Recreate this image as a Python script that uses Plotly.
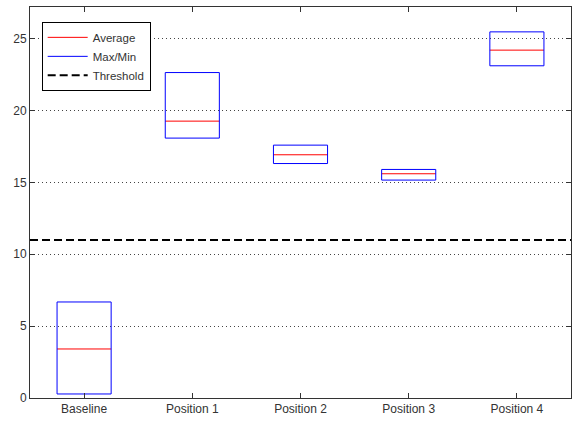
import plotly.graph_objects as go

categories = ["Baseline", "Position 1", "Position 2", "Position 3", "Position 4"]
avg_vals = [3.41, 19.26, 16.92, 15.60, 24.20]
max_vals = [6.68, 22.64, 17.59, 15.90, 25.47]
min_vals = [0.28, 18.08, 16.31, 15.16, 23.11]
threshold = 11.0
y_ticks = [0, 5, 10, 15, 20, 25]

half = 0.25
pos = list(range(1, len(categories) + 1))

bx, by = [], []
ax_, ay_ = [], []
for i, lo, hi, av in zip(pos, min_vals, max_vals, avg_vals):
    bx += [i - half, i + half, i + half, i - half, i - half, None]
    by += [lo, lo, hi, hi, lo, None]
    ax_ += [i - half, i + half, None]
    ay_ += [av, av, None]

fig = go.Figure()
fig.add_trace(go.Scatter(x=ax_, y=ay_, mode="lines", name="Average",
                         line=dict(color="#ff0000", width=1)))
fig.add_trace(go.Scatter(x=bx, y=by, mode="lines", name="Max/Min",
                         line=dict(color="#0000ff", width=1)))
fig.add_trace(go.Scatter(x=[0.5, len(categories) + 0.5], y=[threshold, threshold],
                         mode="lines", name="Threshold",
                         line=dict(color="#000000", width=2, dash="8px,4px")))

fig.update_layout(
    width=573, height=423,
    margin=dict(l=30, r=2, t=7, b=25),
    paper_bgcolor="white", plot_bgcolor="white",
    font=dict(family="Liberation Sans, Arial, sans-serif", size=12, color="#333333"),
    showlegend=True,
    legend=dict(x=0.0216, y=0.962, xanchor="left", yanchor="top",
                bordercolor="#000000", borderwidth=1, bgcolor="white",
                font=dict(size=11.5, color="#333333"), tracegroupgap=0,
                itemwidth=40),
)
fig.update_xaxes(range=[0.5, len(categories) + 0.5], tickvals=pos, ticktext=categories,
                 showgrid=False, zeroline=False, showline=True, linecolor="#333333",
                 linewidth=1, mirror="ticks", ticks="inside", ticklen=5,
                 tickcolor="#333333")
fig.update_yaxes(range=[0, 27.2], tickvals=y_ticks, showgrid=True,
                 gridcolor="#444444", griddash="1px,3px", gridwidth=1,
                 zeroline=False, showline=True, linecolor="#333333", linewidth=1,
                 mirror="ticks", ticks="inside", ticklen=5, tickcolor="#333333")

fig.write_html("out.html")
